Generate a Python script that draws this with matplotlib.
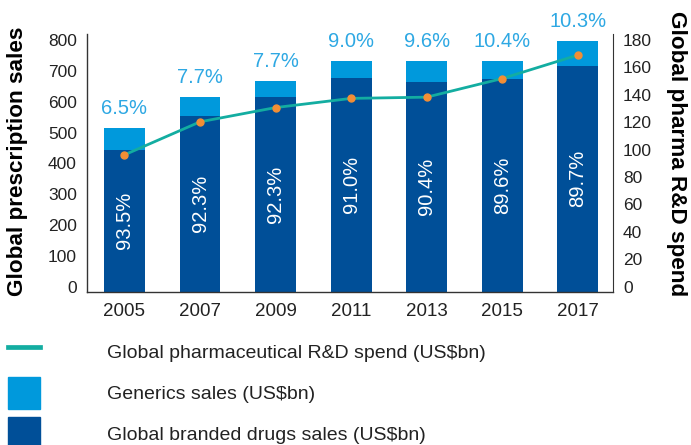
import matplotlib
matplotlib.use("Agg")
import matplotlib.pyplot as plt
import matplotlib.transforms as mtransforms
from matplotlib.lines import Line2D
from matplotlib.patches import Patch

plt.rcParams['font.family'] = ['Liberation Sans', 'DejaVu Sans']

# data
years = ['2005', '2007', '2009', '2011', '2013', '2015', '2017']
branded_sales = [460, 570, 632, 694, 681, 690, 733]
generics_sales = [71, 62, 52, 55, 68, 59, 81]
rd_spend = [99.9, 124, 134.4, 141.1, 142, 155.6, 172.7]
generics_share = ['6.5%', '7.7%', '7.7%', '9.0%', '9.6%', '10.4%', '10.3%']
branded_share = ['93.5%', '92.3%', '92.3%', '91.0%', '90.4%', '89.6%', '89.7%']

dark_blue = '#004f98'
light_blue = '#0099dc'
teal = '#13ada1'
orange = '#f28e35'
label_blue = '#2ea8e3'
text_col = '#222222'

fig = plt.figure(figsize=(6.91, 4.45), dpi=100)
ax = fig.add_axes([86.7 / 691, 1 - 291.7 / 445, (613.3 - 86.7) / 691, (291.7 - 34) / 445])
x = list(range(len(years)))
w = 0.54

ax.bar(x, branded_sales, width=w, color=dark_blue, zorder=2)
totals = [b + g for b, g in zip(branded_sales, generics_sales)]
ax.bar(x, generics_sales, width=w, bottom=branded_sales, color=light_blue, zorder=2)

for i in x:
    ax.annotate(generics_share[i], (i, totals[i]), xytext=(0, 14), textcoords='offset points',
                ha='center', va='center', color=label_blue, fontsize=14.5)
    ax.text(i, branded_sales[i] / 2, branded_share[i], rotation=90, ha='center', va='center',
            color='white', fontsize=14.5)

ax.set_xlim(-0.5, 6.47)
ax.set_ylim(0, 836)
ax.set_yticks(range(0, 801, 100))
ax.set_xticks(x)
ax.set_xticklabels(years)
ax.tick_params(axis='both', length=0, colors=text_col)
ax.tick_params(axis='y', pad=7, labelsize=12.5)
ax.tick_params(axis='x', pad=8, labelsize=13.5)
for s in ['top', 'right']:
    ax.spines[s].set_visible(False)
for s in ['left', 'bottom']:
    ax.spines[s].set_color('#333333')
    ax.spines[s].set_linewidth(1)

ax2 = ax.twinx()
ax2.plot(x, rd_spend, color=teal, lw=2, zorder=3)
ax2.plot(x, rd_spend, 'o', color=orange, ms=5, zorder=4)
ax2.set_ylim(0, 836 * 180 / 800)
ax2.set_yticks(range(0, 181, 20))
ax2.tick_params(axis='y', length=0, labelsize=12.5, colors=text_col, pad=7)
for s in ['top', 'left', 'bottom']:
    ax2.spines[s].set_visible(False)
ax2.spines['right'].set_color('#333333')

# shift y tick labels up a little like the original
shift = mtransforms.ScaledTranslation(0, 5 / 100, fig.dpi_scale_trans)
for lab in ax.get_yticklabels() + ax2.get_yticklabels():
    lab.set_transform(lab.get_transform() + shift)

fig.text(18 / 691, 1 - 161 / 445, 'Global prescription sales', rotation=90, ha='center', va='center',
         fontsize=16.2, fontweight='bold', color='black')
fig.text(677 / 691, 1 - 154 / 445, 'Global pharma R&D spend', rotation=-90, ha='center', va='center',
         fontsize=16.2, fontweight='bold', color='black')

handles = [Line2D([0], [0], color=teal, lw=3.4),
           Patch(color=light_blue), Patch(color=dark_blue)]
labels = ['Global pharmaceutical R&D spend (US$bn)', 'Generics sales (US$bn)',
          'Global branded drugs sales (US$bn)']
fig.legend(handles, labels, loc='upper left', bbox_to_anchor=(8 / 691, 1 - 335.7 / 445),
           frameon=False, borderpad=0, borderaxespad=0, fontsize=14,
           handlelength=1.643, handleheight=2.15, handletextpad=3.43, labelspacing=0.46,
           labelcolor=text_col)

fig.savefig('out.png', dpi=100)
